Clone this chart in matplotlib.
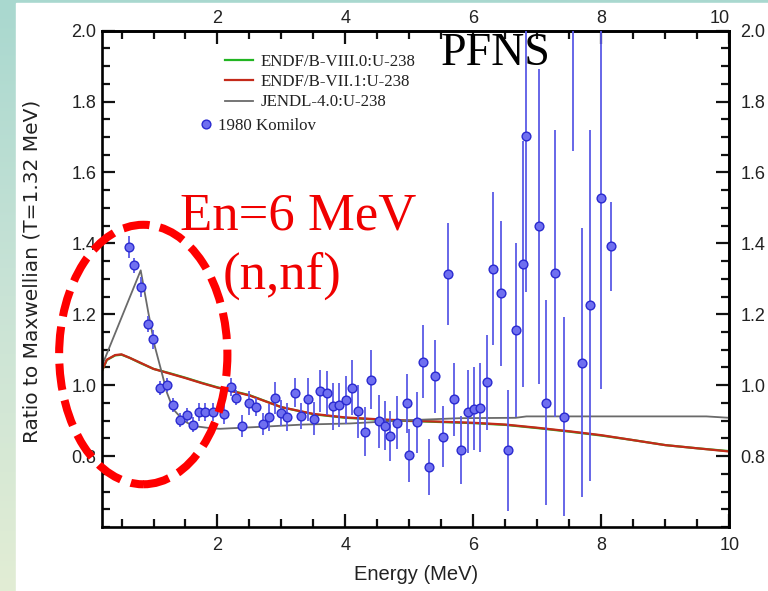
import numpy as np
import matplotlib.pyplot as plt
from matplotlib.patches import Ellipse, Rectangle
from matplotlib.lines import Line2D
from matplotlib.colors import LinearSegmentedColormap
from matplotlib.ticker import MultipleLocator, FixedLocator, FormatStrFormatter

# 1980 Komilov PFNS ratio points: energy (MeV), ratio, uncertainty
komilov_e = [0.62, 0.70, 0.80, 0.92, 0.99, 1.105, 1.21, 1.31, 1.41, 1.52,
             1.61, 1.71, 1.81, 1.93, 2.10, 2.21, 2.29, 2.39, 2.50, 2.60,
             2.71, 2.81, 2.90, 2.99, 3.08, 3.21, 3.30, 3.42, 3.51, 3.60,
             3.71, 3.81, 3.90, 4.01, 4.10, 4.20, 4.30, 4.40, 4.52, 4.62,
             4.70, 4.81, 4.97, 5.00, 5.12, 5.21, 5.30, 5.40, 5.52, 5.61,
             5.69, 5.80, 5.91, 6.01, 6.11, 6.22, 6.31, 6.43, 6.54, 6.66,
             6.77, 6.83, 7.02, 7.14, 7.28, 7.41, 7.56, 7.70, 7.83, 7.99,
             8.15]
komilov_r = [1.390, 1.338, 1.277, 1.172, 1.129, 0.993, 1.001, 0.943, 0.901, 0.916,
             0.889, 0.925, 0.925, 0.925, 0.919, 0.995, 0.965, 0.886, 0.951, 0.938,
             0.890, 0.909, 0.964, 0.921, 0.911, 0.979, 0.913, 0.960, 0.906, 0.983,
             0.978, 0.940, 0.944, 0.958, 0.993, 0.926, 0.869, 1.016, 0.898, 0.886,
             0.856, 0.894, 0.949, 0.802, 0.896, 1.066, 0.769, 1.025, 0.855, 1.314,
             0.960, 0.817, 0.925, 0.934, 0.937, 1.008, 1.329, 1.259, 0.816, 1.156,
             1.342, 1.703, 1.448, 0.951, 1.316, 0.911, 2.100, 1.064, 1.226, 1.529,
             1.392]
komilov_err = [0.030, 0.021, 0.028, 0.023, 0.026, 0.020, 0.020, 0.020, 0.020, 0.020,
               0.020, 0.026, 0.026, 0.026, 0.028, 0.025, 0.021, 0.031, 0.034, 0.026,
               0.031, 0.037, 0.045, 0.037, 0.040, 0.040, 0.037, 0.060, 0.047, 0.059,
               0.062, 0.065, 0.063, 0.067, 0.077, 0.075, 0.070, 0.084, 0.075, 0.070,
               0.070, 0.075, 0.084, 0.075, 0.086, 0.103, 0.079, 0.103, 0.087, 0.143,
               0.104, 0.095, 0.117, 0.117, 0.126, 0.135, 0.217, 0.205, 0.170, 0.245,
               0.347, 0.440, 0.445, 0.290, 0.405, 0.280, 0.440, 0.380, 0.495, 0.540,
               0.126]

# evaluated spectra, ratio to Maxwellian
endf_e = [0.19, 0.27, 0.40, 0.50, 0.63, 0.80, 1.00, 1.25, 1.50, 1.75, 2.00,
          2.50, 3.00, 3.50, 4.00, 4.50, 5.00, 5.50, 6.00, 6.50, 7.00, 7.50,
          8.00, 8.50, 9.00, 9.50, 10.0]
endf71_r = [1.039, 1.072, 1.085, 1.087, 1.077, 1.063, 1.046, 1.033, 1.020, 1.006, 0.993,
            0.971, 0.938, 0.919, 0.909, 0.904, 0.900, 0.897, 0.894, 0.889, 0.880, 0.870,
            0.859, 0.845, 0.831, 0.822, 0.813]
endf80_r = [1.038, 1.071, 1.084, 1.086, 1.077, 1.062, 1.046, 1.034, 1.021, 1.007, 0.994,
            0.972, 0.938, 0.918, 0.908, 0.903, 0.899, 0.896, 0.893, 0.888, 0.879, 0.869,
            0.858, 0.845, 0.831, 0.822, 0.814]
jendl_e = [0.19, 0.80, 0.92, 1.02, 1.13, 1.21, 1.31, 1.47, 1.62, 1.88, 2.04,
           2.72, 3.34, 4.07, 4.96, 5.79, 6.66, 6.83, 9.64, 10.0]
jendl_r = [1.053, 1.324, 1.204, 1.110, 1.035, 0.979, 0.932, 0.900, 0.885, 0.879, 0.877,
           0.883, 0.889, 0.892, 0.901, 0.907, 0.908, 0.912, 0.912, 0.908]

W, H = 768, 591
fig = plt.figure(figsize=(W / 100, H / 100), dpi=100)

# slide backdrop: teal-to-green strip with a white panel
bg = fig.add_axes([0, 0, 1, 1])
slide = LinearSegmentedColormap.from_list('slide', ['#a9d8cf', '#c9e3d6', '#e2edd4'])
bg.imshow(np.linspace(0, 1, 256).reshape(-1, 1), aspect='auto', cmap=slide,
          extent=[0, 1, 0, 1])
bg.add_patch(Rectangle((16 / W, 0), 1, 1 - 3 / H, color='white'))
bg.set_xlim(0, 1)
bg.set_ylim(0, 1)
bg.set_axis_off()

left, right, top, bottom = 102, 729.3, 30.7, 527
ax = fig.add_axes([left / W, 1 - bottom / H, (right - left) / W, (bottom - top) / H])

sans = 'Liberation Sans'
serif = 'Liberation Serif'

h80, = ax.plot(endf_e, endf80_r, color='#22b522', lw=1.6, label='ENDF/B-VIII.0:U-238')
h71, = ax.plot(endf_e, endf71_r, color='#c42a1a', lw=1.6, label='ENDF/B-VII.1:U-238')
hj, = ax.plot(jendl_e, jendl_r, color='#6a6a6a', lw=1.3, label='JENDL-4.0:U-238')
ax.errorbar(komilov_e, komilov_r, yerr=komilov_err, fmt='o', ms=6.3,
            mfc='#6f6ff0', mec='#2a2ad0', mew=1.0, ecolor='#5a5ae6',
            elinewidth=1.3, capsize=0, zorder=4)

ax.set_xlim(0.195, 10)
ax.set_ylim(0.6, 2.0)

ax.xaxis.set_major_locator(MultipleLocator(2))
ax.xaxis.set_minor_locator(MultipleLocator(0.5))
ax.yaxis.set_major_locator(FixedLocator([0.8, 1.0, 1.2, 1.4, 1.6, 1.8, 2.0]))
ax.yaxis.set_minor_locator(MultipleLocator(0.05))
ax.xaxis.set_major_formatter(FormatStrFormatter('%d'))
ax.yaxis.set_major_formatter(FormatStrFormatter('%.1f'))

for s in ax.spines.values():
    s.set_linewidth(1.9)

ax.tick_params(which='both', direction='in', width=1.6, colors='#111111',
               labelcolor='#222222', labelsize=13, top=False, right=False)
ax.tick_params(which='major', length=9.5)
ax.tick_params(which='minor', length=5.6)
ax.tick_params(axis='y', pad=4)
ax.tick_params(axis='x', pad=7)

# mirrored axes on top and right
sec_x = ax.secondary_xaxis('top')
sec_y = ax.secondary_yaxis('right')
sec_x.xaxis.set_major_locator(FixedLocator([2, 4, 6, 8, 10]))
sec_x.xaxis.set_minor_locator(MultipleLocator(0.5))
sec_x.xaxis.set_major_formatter(FormatStrFormatter('%d'))
sec_y.yaxis.set_major_locator(FixedLocator([0.8, 1.0, 1.2, 1.4, 1.6, 1.8, 2.0]))
sec_y.yaxis.set_minor_locator(MultipleLocator(0.05))
sec_y.yaxis.set_major_formatter(FormatStrFormatter('%.1f'))
for sec in (sec_x, sec_y):
    for s in sec.spines.values():
        s.set_linewidth(1.9)
    sec.tick_params(which='both', direction='in', width=1.6, colors='#111111',
                    labelcolor='#222222', labelsize=13)
    sec.tick_params(which='major', length=9.5)
    sec.tick_params(which='minor', length=5.6)
sec_x.tick_params(pad=3)
sec_y.tick_params(pad=8)

fig.canvas.draw()
for lab in (ax.get_xticklabels() + ax.get_yticklabels()
            + sec_x.get_xticklabels() + sec_y.get_yticklabels()):
    lab.set_family(sans)
# the "10" on the top axis sits flush against the corner
sec_x.get_xticklabels()[-1].set_ha('right')

ax.set_ylabel('Ratio to Maxwellian (T=1.32 MeV)', fontsize=14.5, family='DejaVu Sans',
              color='#222222')
ax.yaxis.set_label_coords((42 - left) / (right - left), 0.516)
ax.set_xlabel('Energy (MeV)', fontsize=14.5, family=sans, color='#222222')
ax.xaxis.set_label_coords(0.5, -(565 - bottom) / (bottom - top))
ax.xaxis.label.set_va('top')

# evaluation legend
leg1 = ax.legend(handles=[h80, h71, hj], loc='upper left',
                 bbox_to_anchor=(225 / W, 1 - 54 / H), bbox_transform=fig.transFigure,
                 frameon=False, borderpad=0, borderaxespad=0, handlelength=1.68,
                 handletextpad=0.42, labelspacing=0.25,
                 prop={'family': serif, 'size': 12.2})
for t in leg1.get_texts():
    t.set_color('#222222')
ax.add_artist(leg1)

dot = Line2D([], [], marker='o', ls='none', ms=6.3, mfc='#6f6ff0', mec='#2a2ad0', mew=1.0)
leg2 = ax.legend(handles=[dot], labels=['1980 Komilov'], loc='upper left',
                 bbox_to_anchor=(199 / W, 1 - 118 / H), bbox_transform=fig.transFigure,
                 frameon=False, borderpad=0, borderaxespad=0, handlelength=0.8,
                 handletextpad=0.34, prop={'family': serif, 'size': 12.2})
for t in leg2.get_texts():
    t.set_color('#222222')

fig.text(441 / W, 1 - 65 / H, 'PFNS', fontsize=33, family=serif, color='black',
         va='baseline')
fig.text(180 / W, 1 - 229 / H, 'En=6 MeV', fontsize=38, family=serif,
         color='#f00000', va='baseline')
fig.text(282 / W, 1 - 289 / H, '(n,nf)', fontsize=38, family=serif,
         color='#f00000', va='baseline', ha='center')

# dashed ring around the low-energy structure
ring = Ellipse((0.84, 1.0865), 2.63, 0.732, fill=False, edgecolor='#ff0000',
               lw=5.8, linestyle=(0, (3.3, 1.3)), clip_on=False, zorder=6)
ax.add_patch(ring)

fig.savefig('out.png', dpi=100)
